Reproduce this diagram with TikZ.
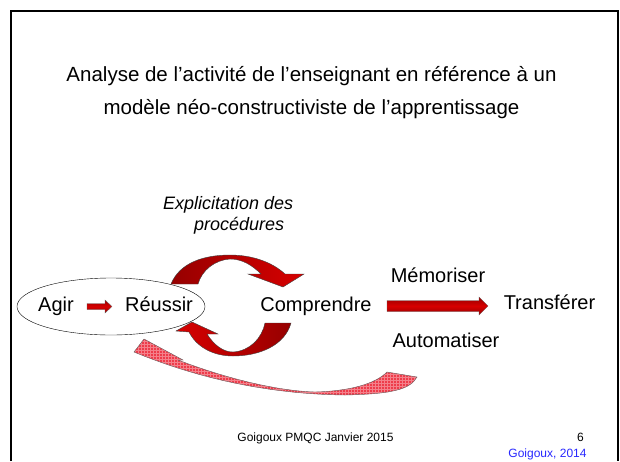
\documentclass[tikz,border=0pt]{standalone}
\usepackage{fontspec}
\setmainfont{Liberation Sans}
\usetikzlibrary{shapes.geometric,patterns}
\definecolor{dkred}{RGB}{150,0,0}
\definecolor{brred}{RGB}{215,0,0}
\definecolor{pinkred}{RGB}{238,60,75}
\definecolor{refblue}{RGB}{40,40,255}
\begin{document}
\begin{tikzpicture}[x=1pt,y=-1pt,
  lbl/.style={font=\fontsize{20}{24}\selectfont, inner sep=0pt, anchor=base},
  ttl/.style={font=\fontsize{20.5}{24}\selectfont, inner sep=0pt, anchor=base},
  expl/.style={font=\fontsize{18}{21}\selectfont\itshape, inner sep=0pt, anchor=base west},
  foot/.style={font=\fontsize{12}{14}\selectfont, inner sep=0pt, anchor=base},
  cycarrow/.style={draw=black!75, line width=0.4pt},
  blockarrow/.style={draw=black!60, line width=0.3pt, top color=dkred, bottom color=dkred, middle color=brred}]
\useasboundingbox (0,0) rectangle (620,461);
\fill[white] (0,0) rectangle (620,461);
\draw[line width=1.6pt] (11,461) -- (11,11) -- (618,11) -- (618,461);

\node[ttl] (t1) at (311.5,81) {Analyse de l’activité de l’enseignant en référence à un};
\node[ttl] (t2) at (311.5,114) {modèle néo-constructiviste de l’apprentissage};

\node[expl] (e1) at (163,209) {Explicitation des};
\node[expl] (e2) at (194,230) {procédures};

\node[draw, ellipse, line width=0.4pt, minimum width=188pt, minimum height=57pt, inner sep=0pt] (ell) at (111,306.5) {};

\node[lbl] (agir) at (56,311) {Agir};
\node[lbl] (reussir) at (159,311) {Réussir};
\node[lbl] (comp) at (316,311) {Comprendre};
\node[lbl] (memo) at (438,282) {Mémoriser};
\node[lbl] (trans) at (549.5,309) {Transférer};
\node[lbl] (auto) at (446,347) {Automatiser};

% block arrows
\shadedraw[blockarrow] (87,303.5) -- (105,303.5) -- (105,300) -- (112,306.5) -- (105,313) -- (105,309.5) -- (87,309.5) -- cycle;
\shadedraw[blockarrow] (387,300.5) -- (479,300.5) -- (479,297) -- (488,306) -- (479,315) -- (479,311.5) -- (387,311.5) -- cycle;

% cycle arrows
\shadedraw[cycarrow, left color=dkred, right color=brred] (171,284) .. controls (180,262) and (205,255) .. (230,255) .. controls (252,255) and (272,262) .. (285,274) -- (304,274) -- (283,287) -- (248,274) -- (261,274) .. controls (252,265) and (242,259) .. (230,259) .. controls (215,260) and (202,270) .. (198,284) -- cycle;
\shadedraw[cycarrow, left color=brred, right color=dkred] (291,323) .. controls (285,345) and (260,356) .. (233,356) .. controls (212,356) and (196,346) .. (189,332) -- (176,331) -- (192,322) -- (218,334) -- (207,334) .. controls (214,345) and (223,352) .. (233,352) .. controls (250,351) and (262,338) .. (265,323) -- cycle;

% feedback arrow
\path[preaction={fill=pinkred}, pattern=grid, pattern color=white!35!pinkred, draw=black!60, line width=0.4pt] (144,339) -- (183,360) -- (178,360) .. controls (230,380) and (280,391) .. (315,392) .. controls (350,391) and (375,384) .. (387,372) -- (417,377) .. controls (410,390) and (390,394) .. (345,395) .. controls (260,394) and (190,375) .. (134,352) -- cycle;

\node[foot] (f1) at (315.5,441) {Goigoux PMQC Janvier 2015};
\node[foot] (f2) at (580.5,441) {6};
\node[foot, text=refblue] (f3) at (547.5,457) {Goigoux, 2014};
\end{tikzpicture}
\end{document}
